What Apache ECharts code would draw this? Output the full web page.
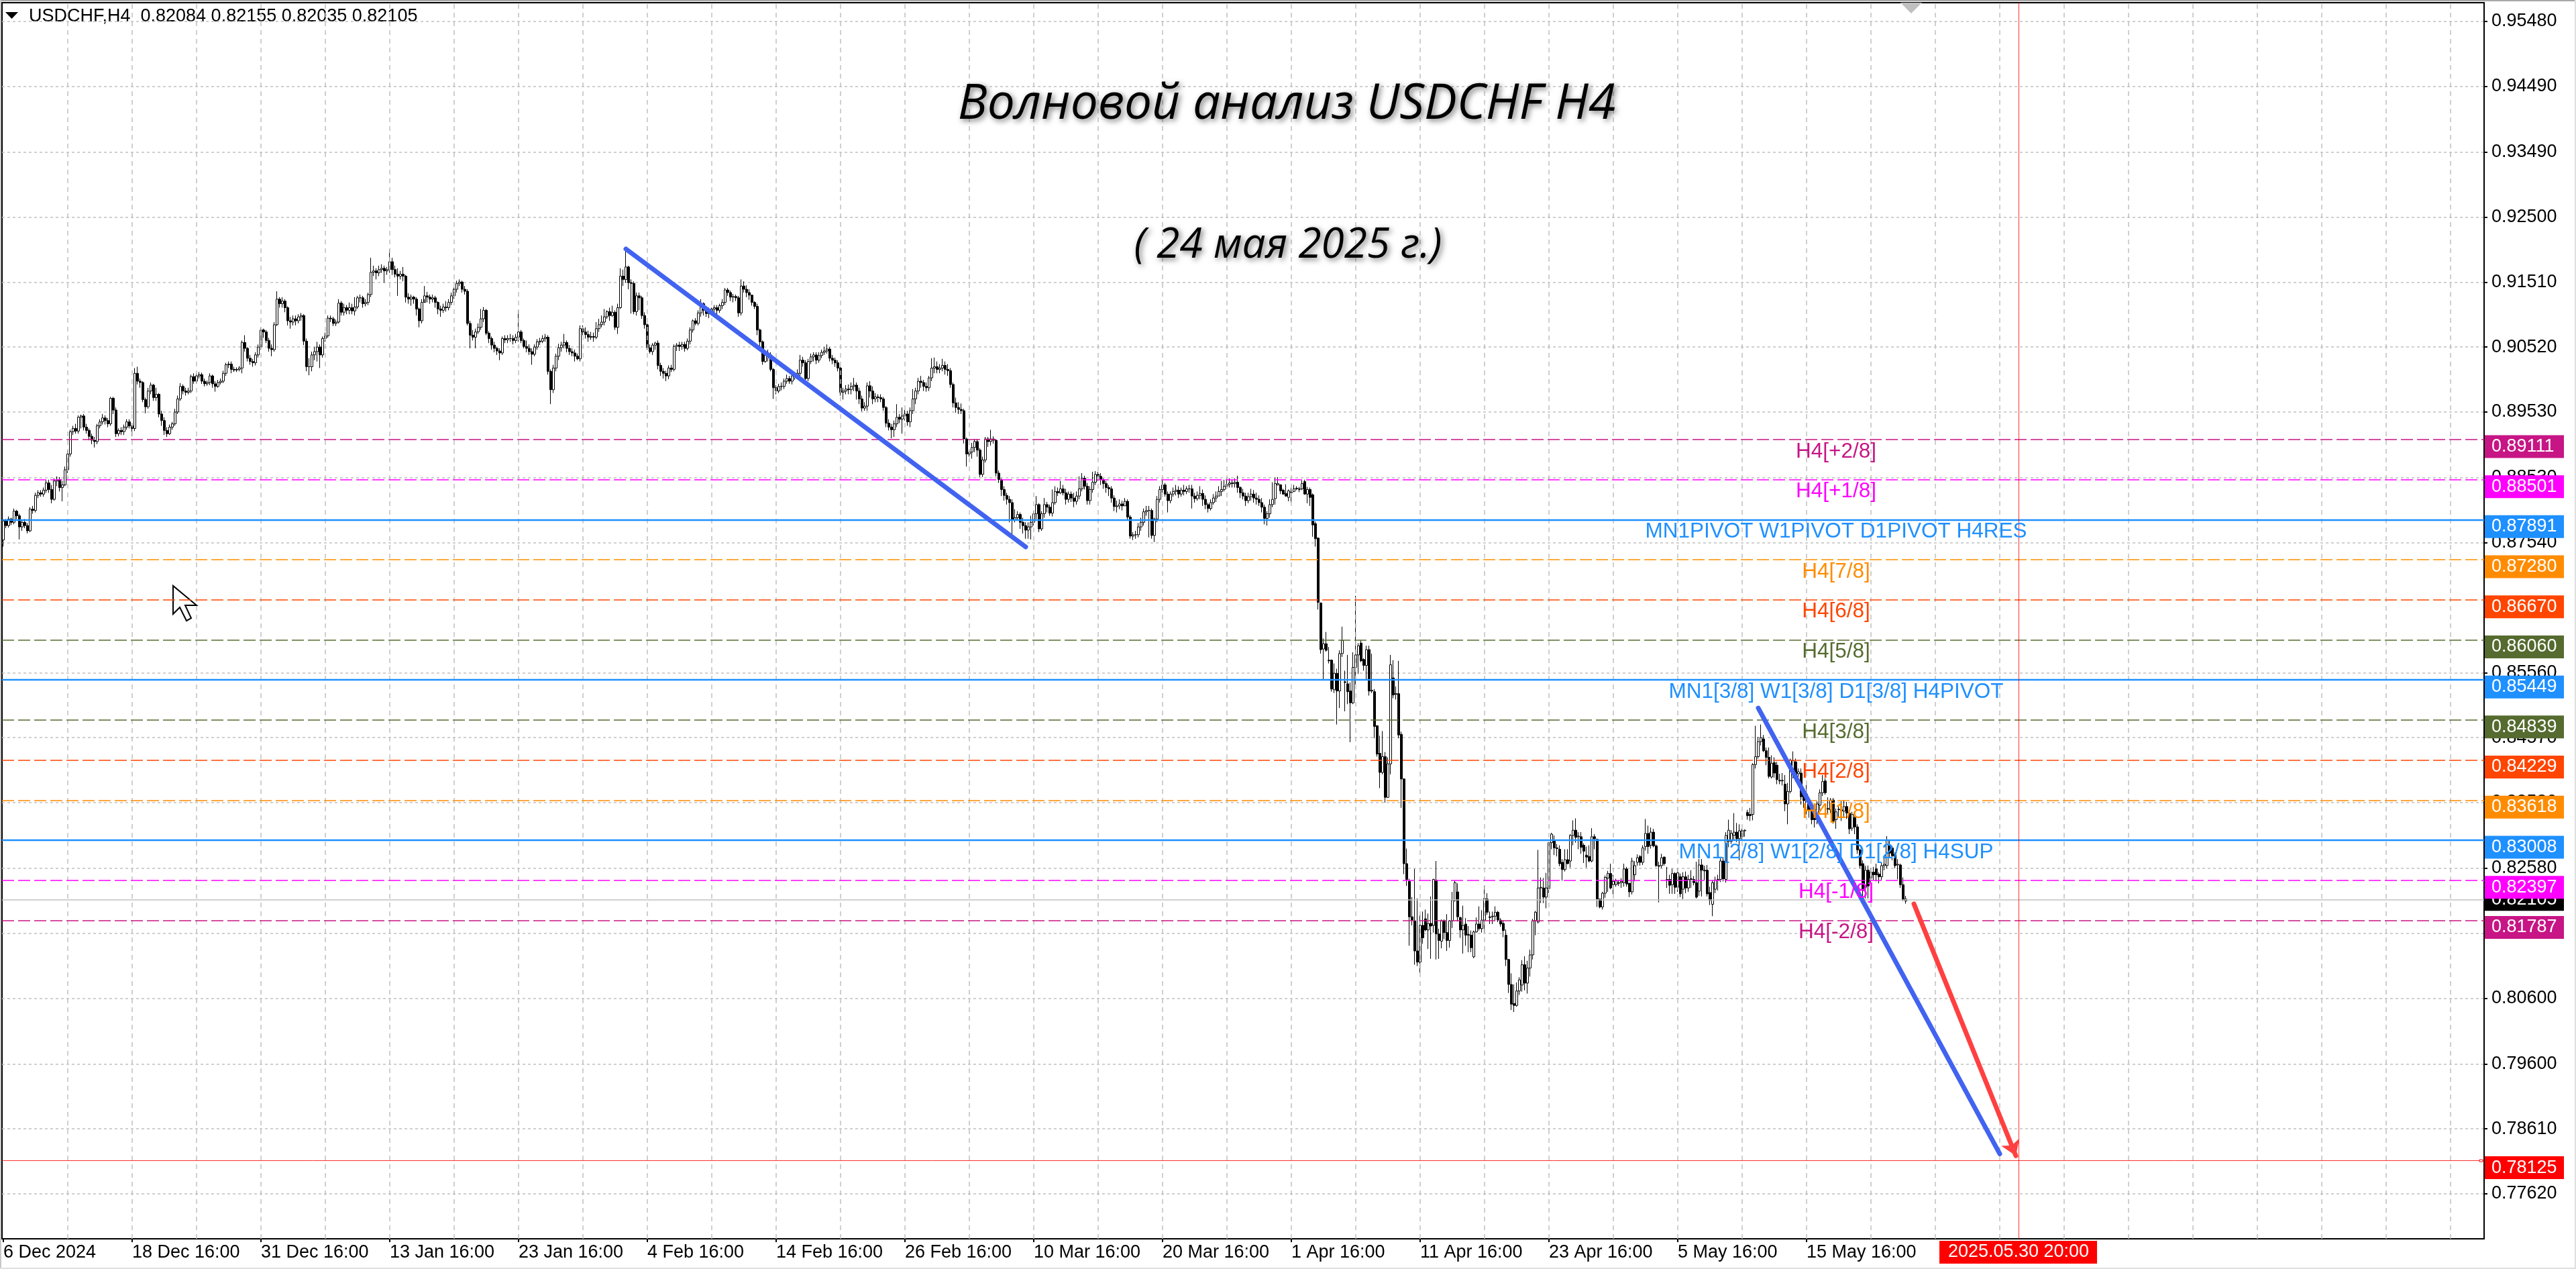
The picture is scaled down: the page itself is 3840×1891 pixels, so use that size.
<!DOCTYPE html>
<html><head><meta charset="utf-8">
<style>html,body{margin:0;padding:0;background:#fff}#c{width:3840px;height:1891px}</style>
<script src="https://cdn.jsdelivr.net/npm/echarts@6/dist/echarts.min.js"></script>
</head><body><div id="c"></div>
<script>
// Candle values in 1/10000 of a price unit, one row per 24 H4 bars.
const opens = [
8758,8787,8780,8790,8785,8802,8795,8778,8785,8780,8772,8805,8803,8826,8830,8828,8834,8845,8835,8820,8848,8850,8838,8842,
8865,8889,8923,8928,8924,8945,8947,8930,8925,8916,8910,8908,8932,8938,8944,8940,8935,8974,8956,8920,8925,8923,8930,8938,
8932,8928,9012,9000,8998,8972,8961,8985,8994,8975,8980,8950,8940,8925,8920,8930,8935,8953,8973,8992,8985,8983,8985,9007,
9000,9008,9010,9000,8996,8998,9008,8996,8992,8998,9000,9012,9025,9026,9018,9017,9018,9020,9059,9050,9035,9030,9028,9040,
9052,9078,9075,9062,9050,9048,9086,9125,9118,9122,9112,9092,9090,9095,9092,9098,9100,9061,9022,9022,9040,9045,9052,9040,
9065,9069,9096,9095,9088,9090,9119,9105,9112,9108,9112,9107,9113,9127,9127,9118,9120,9132,9166,9168,9165,9170,9172,9168,
9170,9182,9170,9163,9160,9163,9160,9128,9125,9128,9125,9110,9092,9120,9130,9128,9125,9127,9120,9110,9108,9113,9112,9120,
9130,9140,9149,9151,9140,9137,9088,9070,9067,9075,9082,9095,9108,9073,9065,9055,9050,9046,9043,9065,9063,9065,9065,9062,
9067,9075,9062,9053,9050,9045,9041,9052,9060,9061,9065,9067,9015,8987,9020,9038,9051,9055,9059,9050,9045,9043,9038,9034,
9080,9075,9071,9067,9068,9067,9080,9086,9090,9098,9106,9100,9105,9082,9112,9160,9155,9174,9150,9149,9106,9130,9127,9100,
9086,9051,9045,9055,9058,9024,9015,9012,9008,9020,9018,9053,9055,9053,9056,9050,9061,9078,9092,9088,9104,9118,9108,9103,
9106,9110,9112,9108,9115,9120,9139,9135,9128,9129,9127,9104,9145,9140,9135,9131,9120,9114,9078,9060,9030,9043,9040,9018,
8990,8985,8992,8992,9000,9004,9000,9008,9008,9012,9032,9028,9004,9030,9037,9040,9032,9039,9044,9046,9049,9035,9032,9028,
9020,8983,8985,8988,8987,8992,8994,8985,8973,8959,8962,8993,8985,8973,8976,8975,8973,8960,8936,8930,8926,8935,8945,8942,
8947,8950,8938,8955,8973,8985,9000,8998,8992,8990,9005,9020,9022,9018,9020,9024,9018,9016,8995,8967,8960,8957,8955,8912,
8889,8892,8899,8908,8895,8858,8880,8912,8908,8912,8910,8860,8850,8835,8826,8820,8815,8789,8792,8797,8785,8780,8773,8778,
8785,8798,8812,8775,8798,8812,8808,8799,8815,8832,8830,8836,8830,8820,8828,8822,8817,8825,8836,8852,8840,8818,8835,8846,
8858,8855,8850,8844,8838,8836,8822,8809,8810,8813,8810,8817,8793,8764,8766,8766,8778,8785,8801,8803,8803,8765,8790,8820,
8835,8842,8828,8818,8828,8832,8834,8828,8834,8832,8836,8836,8825,8821,8826,8829,8820,8812,8806,8815,8822,8825,8832,8835,
8840,8843,8845,8844,8846,8838,8830,8825,8818,8824,8828,8822,8820,8815,8808,8791,8798,8812,8821,8842,8842,8834,8829,8823,
8830,8832,8836,8835,8836,8847,8828,8835,8827,8783,8761,8662,8592,8600,8575,8575,8530,8555,8528,8585,8542,8539,8528,8510,
8564,8583,8601,8576,8567,8591,8529,8527,8475,8433,8404,8428,8366,8417,8548,8524,8524,8462,8394,8265,8238,8184,8178,8132,
8115,8171,8181,8164,8174,8171,8240,8158,8147,8178,8160,8148,8178,8209,8222,8183,8164,8173,8157,8156,8123,8161,8173,8166,
8179,8211,8184,8184,8185,8191,8179,8174,8156,8119,8081,8052,8049,8071,8080,8111,8083,8106,8126,8178,8176,8228,8228,8214,
8227,8297,8300,8289,8287,8267,8256,8271,8269,8308,8316,8306,8306,8293,8278,8276,8269,8306,8302,8211,8199,8220,8243,8250,
8233,8233,8235,8236,8236,8257,8235,8222,8248,8267,8276,8267,8291,8311,8293,8313,8292,8262,8262,8275,8240,8241,8233,8250,
8229,8245,8226,8245,8228,8242,8241,8236,8223,8263,8255,8255,8221,8203,8226,8241,8241,8269,8241,8299,8299,8308,8313,8303,
8306,8315,8343,8340,8340,8416,8428,8451,8455,8437,8427,8397,8419,8415,8392,8391,8386,8356,8375,8405,8420,8402,8403,8371,
8347,8359,8350,8342,8332,8354,8373,8391,8349,8347,8362,8332,8347,8345,8345,8352,8342,8319,8335,8321,8286,8265,8229,8255,
8243,8252,8257,8249,8245,8262,8262,8292,8289,8279,8263,8263,8233,8208];
const closes = [
8787,8780,8790,8785,8802,8795,8778,8785,8780,8772,8805,8803,8826,8830,8828,8834,8845,8835,8820,8848,8850,8838,8842,8865,
8889,8923,8928,8924,8945,8947,8930,8925,8916,8910,8908,8932,8938,8944,8940,8935,8974,8956,8920,8925,8923,8930,8938,8932,
8928,9012,9000,8998,8972,8961,8985,8994,8975,8980,8950,8940,8925,8920,8930,8935,8953,8973,8992,8985,8983,8985,9007,9000,
9008,9010,9000,8996,8998,9008,8996,8992,8998,9000,9012,9025,9026,9018,9017,9018,9020,9059,9050,9035,9030,9028,9040,9052,
9078,9075,9062,9050,9048,9086,9125,9118,9122,9112,9092,9090,9095,9092,9098,9100,9061,9022,9022,9040,9045,9052,9040,9065,
9069,9096,9095,9088,9090,9119,9105,9112,9108,9112,9107,9113,9127,9127,9118,9120,9132,9166,9168,9165,9170,9172,9168,9170,
9182,9170,9163,9160,9163,9160,9128,9125,9128,9125,9110,9092,9120,9130,9128,9125,9127,9120,9110,9108,9113,9112,9120,9130,
9140,9149,9151,9140,9137,9088,9070,9067,9075,9082,9095,9108,9073,9065,9055,9050,9046,9043,9065,9063,9065,9065,9062,9067,
9075,9062,9053,9050,9045,9041,9052,9060,9061,9065,9067,9015,8987,9020,9038,9051,9055,9059,9050,9045,9043,9038,9034,9080,
9075,9071,9067,9068,9067,9080,9086,9090,9098,9106,9100,9105,9082,9112,9160,9155,9174,9150,9149,9106,9130,9127,9100,9086,
9051,9045,9055,9058,9024,9015,9012,9008,9020,9018,9053,9055,9053,9056,9050,9061,9078,9092,9088,9104,9118,9108,9103,9106,
9110,9112,9108,9115,9120,9139,9135,9128,9129,9127,9104,9145,9140,9135,9131,9120,9114,9078,9060,9030,9043,9040,9018,8990,
8985,8992,8992,9000,9004,9000,9008,9008,9012,9032,9028,9004,9030,9037,9040,9032,9039,9044,9046,9049,9035,9032,9028,9020,
8983,8985,8988,8987,8992,8994,8985,8973,8959,8962,8993,8985,8973,8976,8975,8973,8960,8936,8930,8926,8935,8945,8942,8947,
8950,8938,8955,8973,8985,9000,8998,8992,8990,9005,9020,9022,9018,9020,9024,9018,9016,8995,8967,8960,8957,8955,8912,8889,
8892,8899,8908,8895,8858,8880,8912,8908,8912,8910,8860,8850,8835,8826,8820,8815,8789,8792,8797,8785,8780,8773,8778,8785,
8798,8812,8775,8798,8812,8808,8799,8815,8832,8830,8836,8830,8820,8828,8822,8817,8825,8836,8852,8840,8818,8835,8846,8858,
8855,8850,8844,8838,8836,8822,8809,8810,8813,8810,8817,8793,8764,8766,8766,8778,8785,8801,8803,8803,8765,8790,8820,8835,
8842,8828,8818,8828,8832,8834,8828,8834,8832,8836,8836,8825,8821,8826,8829,8820,8812,8806,8815,8822,8825,8832,8835,8840,
8843,8845,8844,8846,8838,8830,8825,8818,8824,8828,8822,8820,8815,8808,8791,8798,8812,8820,8844,8844,8833,8828,8825,8833,
8831,8836,8837,8836,8844,8828,8835,8823,8781,8760,8663,8591,8600,8590,8574,8531,8555,8528,8585,8605,8541,8527,8510,8564,
8583,8597,8574,8567,8591,8528,8528,8474,8432,8404,8428,8366,8417,8568,8522,8523,8461,8394,8265,8241,8184,8179,8132,8115,
8171,8152,8164,8174,8170,8241,8158,8148,8178,8160,8148,8178,8209,8236,8184,8164,8171,8156,8156,8137,8161,8173,8166,8179,
8212,8191,8183,8185,8191,8179,8173,8163,8119,8081,8051,8049,8071,8088,8111,8083,8106,8126,8178,8191,8228,8229,8214,8228,
8297,8310,8289,8288,8265,8256,8271,8265,8308,8316,8305,8307,8290,8284,8275,8269,8306,8303,8211,8199,8220,8244,8250,8228,
8238,8239,8236,8238,8257,8234,8222,8269,8262,8274,8267,8289,8311,8291,8313,8292,8262,8261,8274,8265,8241,8232,8250,8229,
8251,8219,8245,8228,8241,8241,8236,8214,8263,8255,8254,8219,8209,8236,8240,8240,8269,8242,8308,8316,8311,8313,8303,8315,
8315,8316,8338,8338,8416,8428,8451,8457,8437,8427,8398,8418,8403,8393,8391,8392,8356,8375,8423,8422,8398,8405,8367,8361,
8371,8347,8332,8332,8356,8373,8390,8373,8348,8362,8328,8344,8348,8347,8352,8342,8318,8340,8321,8286,8262,8224,8255,8231,
8252,8248,8248,8245,8262,8264,8301,8281,8277,8262,8264,8233,8210,8211];
const lows = [
8748,8776,8777,8781,8782,8790,8759,8772,8776,8768,8770,8798,8800,8822,8824,8824,8830,8830,8814,8818,8840,8832,8817,8840,
8860,8885,8918,8920,8920,8928,8925,8920,8910,8904,8899,8904,8928,8934,8934,8930,8932,8950,8915,8916,8918,8918,8926,8928,
8916,8924,8995,8990,8968,8951,8958,8980,8970,8970,8945,8932,8918,8915,8918,8926,8932,8950,8970,8980,8978,8980,8982,8996,
8996,9004,8996,8992,8993,8994,8990,8984,8990,8995,8997,9008,9020,9012,9014,9014,9015,9012,9045,9030,9025,9022,9024,9036,
9048,9066,9058,9045,9038,9045,9084,9112,9112,9105,9085,9080,9085,9085,9088,9092,9055,9015,9009,9015,9032,9030,9020,9036,
9060,9066,9090,9084,9084,9088,9100,9100,9102,9102,9102,9100,9110,9120,9112,9114,9116,9128,9160,9155,9160,9165,9150,9162,
9165,9162,9158,9130,9155,9152,9120,9118,9115,9118,9100,9082,9088,9125,9120,9118,9120,9112,9102,9098,9104,9106,9108,9116,
9125,9135,9145,9135,9132,9085,9050,9062,9050,9072,9078,9090,9070,9058,9048,9044,9040,9032,9040,9058,9058,9060,9056,9058,
9060,9058,9050,9044,9040,9025,9038,9048,9055,9058,9060,9010,8965,8982,9015,9032,9045,9050,9044,9040,9038,9030,9032,9030,
9070,9065,9060,9063,9060,9064,9075,9082,9085,9095,9092,9098,9078,9072,9110,9145,9150,9140,9103,9102,9100,9108,9095,9080,
9048,9042,9040,9048,9018,9008,9004,9000,9003,9014,9015,9046,9046,9048,9045,9047,9056,9074,9085,9085,9098,9100,9098,9096,
9100,9105,9102,9104,9110,9116,9130,9122,9120,9122,9098,9100,9135,9128,9124,9115,9110,9070,9052,9025,9028,9030,9015,8973,
8980,8982,8986,8988,8996,8996,8995,9002,9004,9008,9022,9000,9000,9026,9030,9026,9028,9035,9040,9042,9030,9026,9022,9015,
8978,8972,8980,8980,8980,8985,8972,8965,8954,8955,8955,8975,8965,8968,8968,8968,8955,8930,8925,8913,8915,8930,8936,8920,
8940,8932,8930,8950,8965,8980,8990,8985,8984,8985,9000,9012,9012,9012,9015,9010,9008,8990,8960,8952,8950,8950,8905,8870,
8885,8882,8892,8885,8854,8854,8876,8900,8902,8905,8855,8845,8825,8818,8812,8785,8760,8785,8788,8775,8768,8760,8760,8759,
8780,8790,8770,8772,8792,8800,8795,8794,8812,8825,8828,8826,8812,8815,8816,8808,8812,8820,8832,8835,8812,8812,8830,8842,
8848,8842,8836,8830,8825,8815,8802,8800,8805,8803,8810,8788,8760,8758,8760,8762,8772,8780,8795,8762,8760,8755,8785,8815,
8830,8824,8800,8814,8824,8826,8822,8824,8826,8828,8830,8806,8815,8818,8820,8810,8805,8800,8803,8812,8816,8825,8825,8832,
8836,8838,8838,8838,8830,8822,8820,8810,8814,8818,8815,8812,8810,8800,8782,8780,8792,8808,8812,8841,8828,8827,8824,8817,
8815,8831,8834,8831,8834,8827,8814,8810,8763,8748,8652,8585,8544,8588,8570,8527,8525,8477,8502,8580,8497,8508,8450,8508,
8538,8554,8572,8559,8544,8521,8525,8456,8428,8380,8401,8358,8365,8401,8517,8515,8456,8350,8249,8231,8140,8171,8111,8109,
8099,8143,8162,8135,8120,8160,8119,8120,8136,8150,8132,8137,8167,8207,8177,8152,8128,8140,8130,8130,8121,8160,8163,8160,
8160,8187,8173,8173,8178,8176,8169,8153,8109,8068,8042,8039,8047,8065,8070,8072,8067,8093,8119,8156,8174,8205,8205,8197,
8220,8287,8278,8276,8261,8239,8253,8264,8259,8293,8297,8287,8280,8266,8259,8267,8267,8287,8199,8197,8195,8213,8222,8226,
8218,8230,8231,8228,8230,8230,8214,8218,8238,8262,8262,8263,8285,8280,8288,8290,8260,8206,8258,8262,8228,8219,8219,8219,
8222,8214,8211,8220,8222,8228,8232,8212,8216,8215,8240,8215,8202,8185,8220,8224,8237,8238,8236,8290,8295,8300,8298,8270,
8300,8306,8332,8330,8331,8410,8425,8445,8435,8415,8395,8395,8396,8386,8386,8384,8345,8325,8372,8395,8390,8390,8355,8350,
8340,8335,8325,8320,8325,8345,8368,8370,8340,8342,8326,8318,8335,8330,8335,8333,8310,8315,8310,8280,8258,8212,8212,8212,
8235,8240,8238,8235,8240,8255,8258,8275,8270,8258,8241,8228,8208,8204];
const highs = [
8790,8790,8794,8792,8806,8804,8798,8788,8790,8784,8808,8810,8830,8834,8834,8838,8850,8850,8842,8852,8855,8854,8848,8870,
8895,8926,8932,8935,8948,8949,8950,8935,8928,8920,8915,8935,8942,8950,8948,8944,8976,8976,8960,8928,8930,8934,8942,8942,
8936,9020,9022,9004,9000,8975,8990,8998,8996,8990,8982,8955,8945,8930,8934,8938,8958,8978,8997,8995,8990,8990,9010,9012,
9012,9014,9013,9004,9001,9012,9010,9000,9002,9004,9016,9028,9030,9030,9022,9021,9023,9062,9070,9052,9040,9034,9044,9056,
9082,9080,9078,9066,9056,9090,9137,9128,9128,9125,9114,9098,9100,9100,9102,9104,9102,9065,9035,9045,9052,9060,9056,9068,
9074,9100,9100,9098,9094,9125,9122,9118,9116,9120,9118,9128,9130,9132,9130,9125,9135,9188,9176,9172,9176,9178,9176,9174,
9201,9188,9176,9172,9168,9174,9162,9134,9132,9130,9128,9112,9125,9145,9136,9132,9132,9130,9122,9115,9118,9122,9125,9135,
9143,9153,9155,9153,9145,9140,9092,9078,9080,9088,9110,9113,9110,9076,9068,9060,9052,9050,9068,9070,9070,9072,9070,9072,
9108,9078,9065,9062,9056,9050,9056,9064,9066,9070,9072,9070,9018,9025,9042,9057,9060,9072,9062,9055,9050,9048,9042,9085,
9085,9082,9077,9075,9074,9090,9095,9100,9110,9108,9112,9115,9108,9118,9172,9170,9201,9176,9155,9152,9135,9135,9130,9105,
9088,9056,9058,9060,9062,9028,9020,9016,9024,9025,9056,9058,9060,9060,9060,9065,9082,9094,9096,9108,9125,9120,9112,9112,
9112,9116,9116,9118,9125,9142,9142,9138,9133,9132,9130,9155,9152,9146,9140,9132,9122,9118,9080,9062,9046,9048,9044,9020,
8994,8996,8998,9004,9010,9008,9012,9014,9018,9040,9037,9032,9034,9042,9044,9044,9044,9048,9052,9056,9052,9040,9036,9032,
9022,8990,8994,8995,8998,9005,8998,8990,8978,8968,8998,9000,8992,8982,8980,8980,8976,8962,8942,8935,8940,8965,8950,8960,
8956,8955,8960,8988,8990,9005,9008,9002,8998,9008,9035,9036,9030,9026,9034,9030,9026,9020,8998,8975,8968,8966,8958,8914,
8895,8906,8912,8912,8898,8885,8915,8915,8926,8916,8912,8864,8852,8840,8830,8825,8820,8805,8802,8800,8792,8785,8785,8795,
8802,8825,8814,8802,8822,8816,8812,8835,8840,8838,8848,8842,8836,8832,8832,8830,8832,8855,8860,8856,8845,8840,8862,8863,
8862,8860,8852,8848,8842,8840,8826,8818,8820,8818,8822,8820,8796,8770,8772,8784,8792,8806,8810,8810,8806,8792,8825,8840,
8850,8845,8832,8832,8838,8842,8840,8838,8842,8840,8842,8842,8830,8832,8840,8835,8826,8815,8820,8828,8832,8840,8848,8850,
8852,8852,8850,8852,8856,8840,8836,8830,8830,8836,8834,8830,8826,8822,8812,8802,8820,8846,8853,8854,8843,8836,8843,8835,
8838,8842,8840,8839,8849,8850,8839,8838,8829,8786,8762,8663,8608,8618,8595,8576,8570,8562,8590,8626,8559,8583,8541,8587,
8673,8601,8605,8578,8597,8597,8585,8531,8476,8460,8467,8435,8427,8583,8575,8535,8574,8466,8395,8288,8242,8214,8257,8212,
8187,8192,8195,8189,8215,8242,8269,8166,8180,8180,8188,8179,8222,8239,8235,8184,8201,8182,8170,8163,8163,8183,8200,8194,
8232,8220,8192,8192,8200,8193,8182,8179,8165,8120,8098,8081,8084,8092,8118,8124,8117,8134,8181,8193,8286,8244,8243,8251,
8298,8312,8308,8295,8293,8272,8287,8287,8310,8331,8334,8313,8313,8296,8291,8293,8319,8310,8303,8212,8222,8247,8254,8265,
8248,8242,8240,8243,8265,8260,8236,8274,8269,8279,8278,8293,8333,8323,8320,8318,8294,8268,8280,8276,8260,8248,8257,8252,
8258,8250,8252,8253,8248,8255,8246,8268,8272,8272,8262,8263,8230,8240,8245,8248,8273,8275,8313,8332,8316,8342,8327,8325,
8318,8317,8347,8350,8418,8475,8458,8477,8461,8442,8442,8430,8427,8420,8402,8403,8400,8388,8425,8436,8425,8410,8410,8378,
8385,8365,8353,8348,8360,8378,8400,8395,8366,8365,8365,8349,8352,8360,8362,8359,8345,8344,8338,8325,8288,8270,8262,8262,
8258,8260,8265,8252,8268,8275,8307,8300,8292,8282,8272,8265,8244,8216];

const dateLabels = ['6 Dec 2024','18 Dec 16:00','31 Dec 16:00','13 Jan 16:00','23 Jan 16:00','4 Feb 16:00','14 Feb 16:00','26 Feb 16:00','10 Mar 16:00','20 Mar 16:00','1 Apr 16:00','11 Apr 16:00','23 Apr 16:00','5 May 16:00','15 May 16:00'];
const priceTicks = [0.95480,0.94490,0.93490,0.92500,0.91510,0.90520,0.89530,0.88530,0.87540,0.85560,0.84570,0.83580,0.82580,0.81590,0.80600,0.79600,0.78610,0.77620];

const levelPrices = [0.89111,0.88501,0.87891,0.87280,0.86670,0.86060,0.85449,0.84839,0.84229,0.83618,0.83008,0.82397,0.81787];
const levelColors = ['#C71585','#FF00FF','#1E90FF','#FF8C00','#FF4500','#556B2F','#1E90FF','#556B2F','#FF4500','#FF8C00','#1E90FF','#FF00FF','#C71585'];
const levelNames = ['H4[+2/8]','H4[+1/8]','MN1PIVOT W1PIVOT D1PIVOT H4RES','H4[7/8]','H4[6/8]','H4[5/8]','MN1[3/8] W1[3/8] D1[3/8] H4PIVOT','H4[3/8]','H4[2/8]','H4[1/8]','MN1[2/8] W1[2/8] D1[2/8] H4SUP','H4[-1/8]','H4[-2/8]'];
const currentPrice = 0.82105;
const targetPrice = 0.78125;
const targetBar = 751;
const targetTime = '2025.05.30 20:00';
const blueTrend1 = [[232,0.92014],[381,0.87475]];
const blueTrend2 = [[654,0.85020],[744,0.78230]];
const redArrow = [[712,0.82037],[750,0.78200]];

const BAR_SLOTS = 925, Y_MIN = 0.76935, Y_MAX = 0.95766;
const font = 'Liberation Sans';
const categories = Array.from({length:BAR_SLOTS},(_,i)=> (i%48===0 && dateLabels[i/48]) ? dateLabels[i/48] : '');
const candles = closes.map((c,i)=>[opens[i]/1e4,c/1e4,lows[i]/1e4,highs[i]/1e4]);
const isLabelBar = i => i%48===0 && i<=672;
const gridBars = []; for(let i=24;i<BAR_SLOTS;i+=24) gridBars.push(i);

const chart = echarts.init(document.getElementById('c'),null,{renderer:'canvas',width:3840,height:1891});
const quiet = {symbol:'none',silent:true,animation:false,precision:6,label:{show:false},emphasis:{disabled:true}};

const tags = [{p:currentPrice,c:'#000000',cur:true}].concat(levelPrices.map((p,i)=>({p,c:levelColors[i]}))).concat([{p:targetPrice,c:'#FF0000',box:true}]);

chart.setOption({
  animation:false,
  backgroundColor:'#ffffff',
  grid:{left:3,top:4,width:3700,height:1842,show:true,borderColor:'#000',borderWidth:2,backgroundColor:'#fff'},
  xAxis:{type:'category',data:categories,boundaryGap:true,
    axisLine:{show:true,lineStyle:{color:'#000',width:2}},
    axisTick:{show:true,alignWithLabel:true,length:5,interval:i=>isLabelBar(i),lineStyle:{color:'#000',width:2}},
    axisLabel:{show:true,interval:i=>isLabelBar(i),align:'left',margin:7,fontFamily:font,fontSize:27,color:'#000',hideOverlap:false},
    splitLine:{show:false}},
  yAxis:{type:'value',position:'right',min:Y_MIN,max:Y_MAX,scale:true,
    axisLine:{show:true,lineStyle:{color:'#000',width:2}},
    axisTick:{show:true,length:5,customValues:priceTicks,lineStyle:{color:'#000',width:2}},
    axisLabel:{show:true,customValues:priceTicks,margin:11,fontFamily:font,fontSize:27,color:'#000',formatter:v=>v.toFixed(5)},
    splitLine:{show:true,lineStyle:{color:'#c0c0c0',width:1.5,type:[4,4]}}},
  series:[
    {type:'line',data:[],z:1,silent:true,markLine:Object.assign({},quiet,{
      lineStyle:{color:'#c0c0c0',width:1.5,type:[7,6]},
      data:gridBars.map(b=>({xAxis:b}))})},
    {type:'candlestick',z:3,large:false,progressive:0,barWidth:3,silent:true,data:candles,
      itemStyle:{color:'#ffffff',color0:'#000000',borderColor:'#000000',borderColor0:'#000000',borderWidth:1}},
    {type:'line',data:[],z:4,silent:true,markLine:Object.assign({},quiet,{
      data:levelPrices.map((p,i)=>{
        const solid = levelColors[i]==='#1E90FF';
        return {yAxis:p,lineStyle:{color:levelColors[i],width:solid?2.4:1.6,type:solid?'solid':[18,6]}};
      }).concat([
        {yAxis:currentPrice,lineStyle:{color:'#c0c0c0',width:1.5,type:'solid'}},
        {yAxis:targetPrice,lineStyle:{color:'#FF0000',width:1,type:'solid',opacity:.8}},
        {xAxis:targetBar,lineStyle:{color:'#FF0000',width:1,type:'solid',opacity:.8}}
      ])})},
    {type:'custom',z:5,silent:true,coordinateSystem:'cartesian2d',data:levelPrices.map(p=>[683,p]),
      renderItem:(params,api)=>{
        const i=params.dataIndex, pt=api.coord([683,levelPrices[i]]);
        return {type:'text',style:{text:levelNames[i],x:pt[0],y:pt[1]+18,align:'center',verticalAlign:'middle',fill:levelColors[i],fontFamily:font,fontSize:31.5}};
      }},
    {type:'line',data:[],z:6,silent:true,markLine:Object.assign({},quiet,{
      data:[
        [{coord:blueTrend1[0],lineStyle:{color:'#4163F0',width:7,type:'solid',cap:'round'}},{coord:blueTrend1[1]}],
        [{coord:blueTrend2[0],lineStyle:{color:'#4163F0',width:7,type:'solid',cap:'round'}},{coord:blueTrend2[1]}],
        [{coord:redArrow[0],symbol:'none',lineStyle:{color:'#FF4040',width:7,type:'solid',cap:'round'}},{coord:redArrow[1],symbol:'arrow',symbolSize:22,itemStyle:{color:'#FF4040'}}]
      ]})},
    {type:'custom',z:7,silent:true,coordinateSystem:'cartesian2d',data:tags.map(t=>[924,t.p]),
      renderItem:(params,api)=>{
        const t=tags[params.dataIndex], pt=api.coord([924,t.p]);
        const top = t.cur ? pt[1]-17 : pt[1]-6.5;
        const kids = [
          {type:'rect',shape:{x:pt[0]+3,y:top,width:118,height:34},style:{fill:t.c}},
          {type:'text',style:{text:t.p.toFixed(5),x:pt[0]+13,y:top+17,align:'left',verticalAlign:'middle',fill:'#fff',fontFamily:font,fontSize:27}}
        ];
        if(t.box) kids.push({type:'rect',shape:{x:pt[0]-5,y:pt[1]-1.5,width:5,height:3},style:{fill:'#fff',stroke:'#FF0000',lineWidth:1}});
        return {type:'group',children:kids};
      }},
    {type:'custom',z:7,silent:true,coordinateSystem:'cartesian2d',data:[[targetBar,Y_MIN]],
      renderItem:(params,api)=>{
        const pt=api.coord([targetBar,Y_MIN]);
        return {type:'group',children:[
          {type:'rect',shape:{x:pt[0]-118,y:pt[1]+3,width:235,height:34},style:{fill:'#FF0000'}},
          {type:'text',style:{text:targetTime,x:pt[0],y:pt[1]+20,align:'center',verticalAlign:'middle',fill:'#fff',fontFamily:font,fontSize:27}}
        ]};
      }}
  ],
  graphic:[
    {type:'rect',shape:{x:0,y:0,width:3840,height:2},style:{fill:'#a8a8a8'},silent:true},
    {type:'rect',shape:{x:0,y:0,width:2,height:1891},style:{fill:'#c8c8c8'},silent:true},
    {type:'rect',shape:{x:3838,y:0,width:2,height:1891},style:{fill:'#e0e0e0'},silent:true},
    {type:'rect',shape:{x:0,y:1889,width:3840,height:2},style:{fill:'#e0e0e0'},silent:true},
    {type:'polygon',shape:{points:[[8,18],[27,18],[17.5,28]]},style:{fill:'#000'},silent:true},
    {type:'polygon',shape:{points:[[2833,4],[2865,4],[2849,20]]},style:{fill:'#c0c0c0'},silent:true},
    {type:'polygon',shape:{points:[[258,873],[258,915],[268,905],[278,925],[285,921],[276,902],[293,902]]},style:{fill:'#fff',stroke:'#000',lineWidth:2},silent:true},
    {type:'text',x:43,y:11,silent:true,style:{text:'USDCHF,H4  0.82084 0.82155 0.82035 0.82105',fontFamily:font,fontSize:27,fill:'#000'}},
    {type:'text',x:1918,y:156,silent:true,z:10,style:{text:'Волновой анализ USDCHF H4',align:'center',verticalAlign:'middle',fontFamily:'Open Sans',fontStyle:'italic',fontSize:73,fill:'#000',textShadowColor:'rgba(0,0,0,.55)',textShadowBlur:8,textShadowOffsetX:3,textShadowOffsetY:3}},
    {type:'text',x:1920,y:366,silent:true,z:10,style:{text:'( 24 мая 2025 г.)',align:'center',verticalAlign:'middle',fontFamily:'Open Sans',fontStyle:'italic',fontSize:62,fill:'#000',textShadowColor:'rgba(0,0,0,.55)',textShadowBlur:8,textShadowOffsetX:3,textShadowOffsetY:3}}
  ]
});
</script></body></html>
